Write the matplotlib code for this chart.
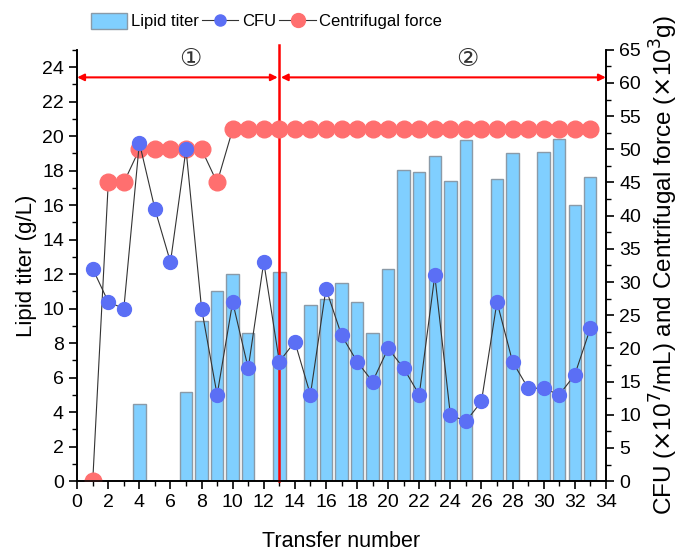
import matplotlib
matplotlib.use("Agg")
import matplotlib.pyplot as plt
from matplotlib.ticker import MultipleLocator
from matplotlib.lines import Line2D
from matplotlib.patches import Patch

plt.rcParams['font.family'] = ['Liberation Sans', 'DejaVu Sans']

transfer = list(range(1, 34))
lipid = [0, 0, 0, 4.45, 0, 0, 5.14, 9.28, 11.0, 11.98, 8.57, 0, 12.14, 0,
         10.19, 10.54, 11.48, 10.4, 8.57, 12.3, 18.03, 17.94, 18.87, 17.4,
         19.79, 0, 17.5, 18.99, 0, 19.1, 19.8, 16.03, 17.6]
cfu = [32, 27, 26, 51, 41, 33, 50, 26, 13, 27, 17, 33, 18, 21, 13, 29, 22,
       18, 15, 20, 17, 13, 31, 10, 9, 12, 27, 18, 14, 14, 13, 16, 23]
force = [0, 45, 45, 50, 50, 50, 50, 50, 45] + [53] * 24

fig = plt.figure(figsize=(6.83, 5.53), dpi=100)
ax = fig.add_axes([0.113, 0.130, 0.774, 0.780])
ax2 = ax.twinx()

bx = [t for t, v in zip(transfer, lipid) if v > 0]
bv = [v for v in lipid if v > 0]
ax.bar(bx, bv, width=0.8, color='#80CFFF', edgecolor='#8a9aa8', linewidth=1.0, zorder=1)

ax2.plot(transfer, force, '-', color='#333333', lw=0.8, marker='o', ms=12,
         mfc='#FF6F6F', mec='#FF6F6F', zorder=2)
ax2.plot(transfer, cfu, '-', color='#333333', lw=0.8, marker='o', ms=10,
         mfc='#5B6FF5', mec='#5B6FF5', zorder=3)

ax.set_xlim(0, 34)
ax.set_ylim(0, 25)
ax2.set_ylim(0, 65)
ax.set_zorder(ax2.get_zorder() - 1)
ax2.patch.set_visible(False)

ax.xaxis.set_major_locator(MultipleLocator(2))
ax.xaxis.set_minor_locator(MultipleLocator(1))
ax.yaxis.set_major_locator(MultipleLocator(2))
ax.yaxis.set_minor_locator(MultipleLocator(1))
ax2.yaxis.set_major_locator(MultipleLocator(5))
ax2.yaxis.set_minor_locator(MultipleLocator(2.5))
for a in (ax, ax2):
    a.tick_params(which='major', direction='out', length=6, width=1.2, labelsize=14)
    a.tick_params(which='minor', direction='out', length=3.5, width=1.0)
    a.spines['top'].set_visible(False)
    for s in a.spines.values():
        s.set_linewidth(1.2)
ax.set_ylim(0, 25)
ax.set_xlabel('Transfer number', fontsize=15.5, labelpad=14)
ax.set_ylabel('Lipid titer (g/L)', fontsize=16)
ax2.set_ylabel(r'CFU ($\times$10$^{7}$/mL) and Centrifugal force ($\times$10$^{3}$g)',
               fontsize=17.5, labelpad=5)

# phase markers
ax.plot([13, 13], [0, 25.25], color='red', lw=1.8, clip_on=False, zorder=5)
ax.annotate('', xy=(0, 23.4), xytext=(12.9, 23.4),
            arrowprops=dict(arrowstyle='<|-|>', color='red', lw=1.5, mutation_scale=10,
                            shrinkA=0, shrinkB=0), annotation_clip=False)
ax.annotate('', xy=(13.1, 23.4), xytext=(34, 23.4),
            arrowprops=dict(arrowstyle='<|-|>', color='red', lw=1.5, mutation_scale=10,
                            shrinkA=0, shrinkB=0), annotation_clip=False)
ax.text(7.3, 24.45, '①', ha='center', va='center', fontsize=18,
        family=['DejaVu Sans'], color='#333333')
ax.text(25.1, 24.45, '②', ha='center', va='center', fontsize=18,
        family=['DejaVu Sans'], color='#333333')

handles = [Patch(facecolor='#80CFFF', edgecolor='#8a9aa8'),
           Line2D([], [], color='#333333', lw=0.8, marker='o', ms=8, mfc='#5B6FF5', mec='#5B6FF5'),
           Line2D([], [], color='#333333', lw=0.8, marker='o', ms=10, mfc='#FF6F6F', mec='#FF6F6F')]
fig.legend(handles, ['Lipid titer', 'CFU', 'Centrifugal force'], loc='center',
           bbox_to_anchor=(0.39, 0.962), ncol=3, frameon=False, fontsize=12,
           handlelength=2.2, handleheight=1.1, handletextpad=0.2, columnspacing=0.2)

fig.savefig('out.png', dpi=100)
